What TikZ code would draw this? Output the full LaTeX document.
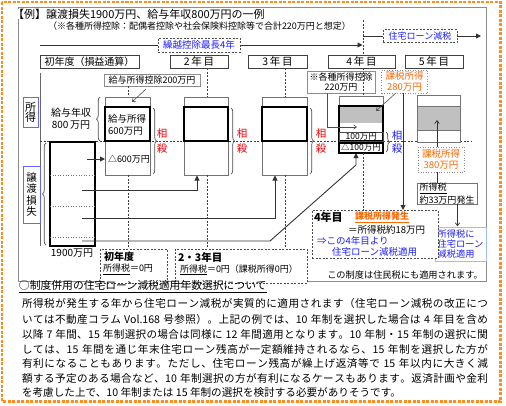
\documentclass[tikz,border=0pt]{standalone}
\usepackage{fontspec}
\setmainfont{Noto Sans CJK JP}
\usetikzlibrary{arrows.meta,decorations.pathreplacing}
\definecolor{orgline}{RGB}{255,140,30}
\definecolor{orgtxt}{RGB}{255,102,0}
\definecolor{redtxt}{RGB}{255,0,0}
\definecolor{bluetxt}{RGB}{30,30,255}
\definecolor{lblblue}{RGB}{100,100,255}
\definecolor{ltblue}{RGB}{160,185,255}
\definecolor{barfill}{RGB}{192,192,192}
\definecolor{framegray}{RGB}{140,140,140}
\newcommand\fz[1]{\fontsize{#1pt}{#1pt}\selectfont}
\def\SpEnd{}
\def\SpEndDef{\SpEnd}
\def\SpreadIt#1{\SpFirst#1\SpEnd}
\def\SpFirst#1{#1\SpNext}
\def\SpNext#1{\def\SpTmp{#1}\ifx\SpTmp\SpEndDef\else\hskip0pt plus 1fil\relax#1\expandafter\SpNext\fi}
\newcommand\jline[1]{\makebox[466pt][s]{\SpreadIt{#1}}}
\begin{document}
\begin{tikzpicture}[x=1pt,y=-1pt,
  txt/.style={inner sep=0pt,outer sep=0pt},
  hdr/.style={draw=black!75,line width=0.9pt,fill=white,inner sep=0pt,minimum height=13pt,font=\fz{10}},
  thinbar/.style={draw=black!55,line width=0.6pt,fill=white,inner sep=0pt,outer sep=0pt,anchor=north west},
  thickbar/.style={draw=black,line width=1.3pt,inner sep=0pt,outer sep=0pt,anchor=north west},
  dline/.style={draw=black!75,line width=0.7pt,dash pattern=on 2pt off 1.5pt},
  conn/.style={draw=black!80,line width=0.9pt},
  tri/.style={-{Triangle[length=5pt,width=5pt]}},
  barb/.style={-{Straight Barb[length=3pt,width=4.5pt]}},
  sosai/.style={txt,font=\fz{10.5},text=redtxt},
  brc/.style={draw=black!70,line width=0.7pt,decorate,decoration={brace,amplitude=3.5pt}},
  dbox/.style={draw=black!70,line width=0.7pt,dash pattern=on 2pt off 1.5pt,fill=white,inner sep=0pt},
  gbox/.style={draw=black!45,line width=0.6pt,fill=white,inner sep=0pt},
  obox/.style={draw=black!45,line width=0.6pt,dotted,fill=white,inner sep=0pt,text=orgtxt,align=center,font=\fz{9.5}},
  lbl/.style={draw=lblblue,line width=0.9pt,fill=white,inner sep=0pt,align=center,font=\fz{11}},
]
\useasboundingbox (0,0) rectangle (506,405);
% frames
\draw[orgline,line width=2.5pt,dash pattern=on 3pt off 1.5pt] (2,2) rectangle (500.5,401.5);
\draw[framegray,line width=0.8pt] (18,7) rectangle (486,281);
% titles
\node[txt,anchor=west,fill=white,font=\fz{11}] (title) at (13,14) {【例】譲渡損失1900万円、給与年収800万円の一例};
\node[txt,anchor=west,font=\fz{9}] (sub) at (48,26) {（※各種所得控除：配偶者控除や社会保険料控除等で合計220万円と想定）};
% top arrows
\draw[dline] (363,20) -- (363,55);
\node[dbox,font=\fz{9.5},text=bluetxt,minimum width=82pt,minimum height=14pt] (kuri) at (199,45) {繰越控除最長4年};
\coordinate (kl) at (40,45);
\coordinate (kr) at (362.5,45);
\draw[conn] (kl) -- (kuri.west);
\draw[conn,tri] (kuri.east) -- (kr);
\node[dbox,font=\fz{9},text=bluetxt,minimum width=74pt,minimum height=13pt] (jutaku) at (420,36) {住宅ローン減税};
\coordinate (jl) at (363,36);
\coordinate (jr) at (481,36);
\draw[conn] (jl) -- (jutaku.west);
\draw[conn,tri] (jutaku.east) -- (jr);
% headers
\node[hdr,minimum width=99pt] (h1) at (89.5,61.5) {初年度（損益通算）};
\node[hdr,minimum width=58pt,font=\fz{10.5}] (h2) at (199,61.5) {2\,年\,目};
\node[hdr,minimum width=59pt,font=\fz{10.5}] (h3) at (277.5,61.5) {3\,年\,目};
\node[hdr,minimum width=67pt,font=\fz{10.5}] (h4) at (361.5,61.5) {4\,年\,目};
\node[hdr,minimum width=58pt,font=\fz{10.5}] (h5) at (434,61.5) {5\,年\,目};
% axis and separator
\draw[black!60,line width=0.7pt] (40,73) -- (40,246);
\draw[dline] (40,141) -- (472,141);
% side labels
\node[lbl,minimum width=15pt,minimum height=30pt] (lshotoku) at (30.5,112) {所\\[-1pt]得};
\node[lbl,minimum width=17pt,minimum height=57pt,font=\fz{10.5}] (ljoto) at (31.5,194.5) {譲\\[1pt]渡\\[1pt]損\\[1pt]失};
% column 1
\node[gbox,font=\fz{9},minimum width=96pt,minimum height=12pt] (ctrl1) at (152,80) {給与所得控除200万円};
\draw[dline] (128,86) -- (128,97);
\node[thinbar,minimum width=45pt,minimum height=78pt] (b1) at (105,97) {};
\node[thickbar,minimum width=45pt,minimum height=34pt] (b1t) at (105,107) {};
\node[txt,anchor=west,font=\fz{9.5}] (t1a) at (108,119) {給与所得};
\node[txt,anchor=west,font=\fz{9.5}] (t1b) at (108,131) {600万円};
\node[txt,anchor=west,font=\fz{9}] (t1c) at (108,159) {△600万円};
\draw[black!70,line width=0.6pt,barb] (146,89) -- (132,102);
\node[txt,align=center,font=\fz{10}] (kyuyo) at (71,119) {給与年収\\[2pt]800\,万円};
\draw[brc] (100,141) -- (100,97);
\draw[brc] (153,108) -- (153,174);
\node[sosai] (s1a) at (162,134) {相};
\node[sosai] (s1b) at (162,149) {殺};
\draw[dline] (128,175) -- (128,249);
% loss bar
\node[thickbar,fill=white,minimum width=45pt,minimum height=104pt] (lb) at (50,142) {};
\draw[black!55,dotted,line width=0.6pt] (50,175) -- (95,175);
\draw[black!55,dotted,line width=0.6pt] (50,206) -- (95,206);
\draw[black!55,dotted,line width=0.6pt] (50,237) -- (95,237);
\draw[brc] (46,245) -- (46,143);
\node[txt,font=\fz{10}] (t1900) at (72,253) {1900万円};
% column 2
\draw[dline] (207,68) -- (207,97);
\node[thinbar,minimum width=44pt,minimum height=78pt] (b2) at (184,97) {};
\node[thickbar,minimum width=44pt,minimum height=34pt] (b2t) at (184,107) {};
\draw[brc] (231,108) -- (231,174);
\node[sosai] (s2a) at (242,134) {相};
\node[sosai] (s2b) at (242,149) {殺};
\draw[dline] (207,175) -- (207,249);
% column 3
\draw[dline] (285,68) -- (285,97);
\node[thinbar,minimum width=45pt,minimum height=78pt] (b3) at (262,97) {};
\node[thickbar,minimum width=45pt,minimum height=34pt] (b3t) at (262,107) {};
\draw[brc] (310,108) -- (310,174);
\node[sosai] (s3a) at (321,134) {相};
\node[sosai] (s3b) at (321,149) {殺};
\draw[dline] (285,175) -- (285,249);
% column 4
\node[gbox,align=center,font=\fz{9},minimum width=68pt,minimum height=22pt] (ctrl4) at (341,82) {※各種所得控除\\[1pt]220万円};
\node[obox,minimum width=46pt,minimum height=23pt] (tax280) at (404.5,81.5) {課税所得\\[1pt]280万円};
\draw[dline] (363,68) -- (363,96);
\node[thinbar,minimum width=44pt,minimum height=45pt] (b4) at (339,96) {};
\node[anchor=north west,fill=barfill,inner sep=0pt,minimum width=44pt,minimum height=17pt] (b4g) at (339,106) {};
\node[thickbar,minimum width=44pt,minimum height=35pt] (b4t) at (339,106) {};
\node[anchor=north west,draw=black!70,line width=0.6pt,inner sep=0pt,minimum width=44pt,minimum height=9pt,text height=6.5pt,text depth=1pt,font=\fz{8.5}] (b4a) at (339,132) {100万円};
\node[thickbar,fill=white,minimum width=44pt,minimum height=10pt,text height=6.5pt,text depth=1pt,font=\fz{8.5}] (b4b) at (339,143) {△100万円};
\coordinate (c4a) at (327,93);
\coordinate (c4b) at (357,127);
\draw[black!70,line width=0.6pt,barb] (c4a) |- (c4b);
\draw[black!70,line width=0.6pt,barb] (tax280.south) ++(-9,0) -- (376,111);
\draw[brc] (386,132) -- (386,152);
\node[sosai,text=bluetxt] (s4a) at (397,136) {相};
\node[sosai,text=bluetxt] (s4b) at (397,149) {殺};
\draw[dline] (363,153) -- (363,210);
% column 5
\node[thinbar,minimum width=43pt,minimum height=47pt] (b5) at (417,95) {};
\node[anchor=north west,fill=barfill,draw=black!55,line width=0.6pt,inner sep=0pt,minimum width=43pt,minimum height=24pt] (b5g) at (417,106) {};
\node[obox,minimum width=46pt,minimum height=25pt] (tax380) at (441,159.5) {課税所得\\[1pt]380万円};
\coordinate (c5t) at (437,120);
\draw[black!80,line width=0.7pt,barb] (tax380.north -| c5t) -- (c5t);
\node[gbox,draw=black!55,align=left,font=\fz{9},minimum width=60pt,minimum height=21pt] (tax33) at (447,193.5) {\underline{所得税}\\[1pt]約33万円発生\hspace{6pt}};
\draw[black!80,line width=0.7pt] (tax380.south -| c5t) -- (tax33.north -| c5t);
\node[draw=ltblue,line width=1pt,fill=white,inner xsep=1.5pt,inner ysep=0pt,align=left,text=bluetxt,font=\fz{9.2},minimum width=51pt,minimum height=34pt] (apply) at (460.5,244) {所得税に\\[1pt]住宅ローン\\[1pt]減税適用};
\draw[black!80,line width=0.7pt,barb] (tax33.south -| apply.center) ++(-3,0) -- ++(0,22);
% year-4 box
\node[dbox,anchor=north west,minimum width=126pt,minimum height=48pt] (y4) at (312,210) {};
\node[txt,anchor=west,font=\fz{11}\bfseries] (y4a) at (314,217) {4年目};
\node[txt,anchor=west,font=\fz{9}\bfseries,text=orgtxt] (y4b) at (355,217) {\underline{課税所得発生}};
\node[txt,anchor=west,font=\fz{9.5}] (y4c) at (348,229.5) {＝所得税約18万円};
\node[txt,anchor=west,font=\fz{9.5},text=bluetxt] (y4d) at (317,241) {⇒この4年目より};
\node[txt,anchor=west,font=\fz{9.5},text=bluetxt] (y4e) at (332,252) {住宅ローン減税適用};
\coordinate (c280) at (403,93);
\draw[conn,tri] (c280) -- (y4.north -| c280);
% loss connectors
\coordinate (la0) at (87,159);
\draw[conn,tri] (la0) -- (b1.west |- la0);
\coordinate (la1) at (82,190);
\coordinate (e2) at (197,175.5);
\draw[conn,tri] (la1) -| (e2);
\coordinate (la2) at (82,218);
\coordinate (e3) at (275,175.5);
\draw[conn,tri] (la2) -| (e3);
\coordinate (la3) at (82,241);
\coordinate (k3) at (270,241);
\coordinate (k4) at (356,165);
\draw[conn,tri] (la3) -- (k3) -- (k4) -- (b4b.south -| k4);
% bottom boxes
\node[dbox,anchor=north west,minimum width=67pt,minimum height=34pt] (f1) at (100,249) {};
\node[txt,anchor=west,font=\fz{10}\bfseries] (f1a) at (104,256.5) {初年度};
\node[txt,anchor=west,font=\fz{9}] (f1b) at (103,269.5) {\underline{所得税}＝0円};
\node[dbox,anchor=north west,minimum width=132pt,minimum height=34pt] (f2) at (175,249) {};
\node[txt,anchor=west,font=\fz{10.5}\bfseries] (f2a) at (178,257) {2・3年目};
\node[txt,anchor=west,font=\fz{9}] (f2b) at (180,270) {\underline{所得税}＝0円（課税所得0円）};
\node[txt,font=\fz{9.2}] (note) at (405,275) {この制度は住民税にも適用されます。};
% paragraph
\node[txt,anchor=west,font=\fz{10.8}] (head) at (19,286.5) {\underline{○制度併用の住宅ローン減税適用年数選択について}};
\node[txt,anchor=west,font=\fz{10.6}] (p1) at (22,303) {\jline{所得税が発生する年から住宅ローン減税が実質的に適用されます（住宅ローン減税の改正につ}};
\node[txt,anchor=west,font=\fz{10.6}] (p2) at (22,319) {\jline{いては不動産コラム~{Vol.168}~号参照）。上記の例では、{10}~年制を選択した場合は~4~年目を含め}};
\node[txt,anchor=west,font=\fz{10.6}] (p3) at (22,334.5) {\jline{以降~7~年間、{15}~年制選択の場合は同様に~{12}~年間適用となります。{10}~年制・{15}~年制の選択に関}};
\node[txt,anchor=west,font=\fz{10.6}] (p4) at (22,349) {\jline{しては、{15}~年間を通じ年末住宅ローン残高が一定額維持されるなら、{15}~年制を選択した方が}};
\node[txt,anchor=west,font=\fz{10.6}] (p5) at (22,363.5) {\jline{有利になることもあります。ただし、住宅ローン残高が繰上げ返済等で~{15}~年以内に大きく減}};
\node[txt,anchor=west,font=\fz{10.6}] (p6) at (22,378) {\jline{額する予定のある場合など、{10}~年制選択の方が有利になるケースもあります。返済計画や金利}};
\node[txt,anchor=west,font=\fz{10.6}] (p7) at (22,392.5) {を考慮した上で、10 年制または 15 年制の選択を検討する必要がありそうです。};
\end{tikzpicture}
\end{document}
